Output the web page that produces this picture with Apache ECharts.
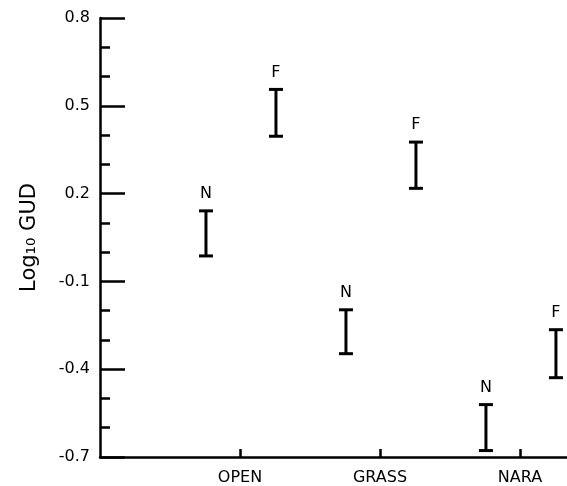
<!DOCTYPE html>
<html>
<head>
<meta charset="utf-8">
<script src="https://cdn.jsdelivr.net/npm/echarts@6/dist/echarts.min.js"></script>
<style>html,body{margin:0;padding:0;background:#fff}#c{width:567px;height:486px}</style>
</head>
<body>
<div id="c"></div>
<script>
var categories = ['OPEN', 'GRASS', 'NARA'];
var nLow  = [-0.013, -0.347, -0.678];
var nHigh = [0.141, -0.197, -0.521];
var fLow  = [0.396, 0.218, -0.429];
var fHigh = [0.556, 0.376, -0.265];
var yTickLabels = [-0.7, -0.4, -0.1, 0.2, 0.5, 0.8];

var N_OFFSET = -0.243, F_OFFSET = 0.257;
function build(lows, highs, off) {
  return categories.map(function (c, i) { return [i + 1 + off, lows[i], highs[i]]; });
}
var FONT = 'DejaVu Sans';
function renderBar(letter) {
  return function (params, api) {
    var x = api.value(0);
    var lo = api.coord([x, api.value(1)]);
    var hi = api.coord([x, api.value(2)]);
    var cap = 7;
    var st = { stroke: '#000', lineWidth: 3 };
    return {
      type: 'group',
      children: [
        { type: 'line', shape: { x1: hi[0], y1: hi[1], x2: lo[0], y2: lo[1] }, style: st },
        { type: 'line', shape: { x1: hi[0] - cap, y1: hi[1], x2: hi[0] + cap, y2: hi[1] }, style: st },
        { type: 'line', shape: { x1: lo[0] - cap, y1: lo[1], x2: lo[0] + cap, y2: lo[1] }, style: st },
        { type: 'text', x: hi[0], y: hi[1] - 9, style: { text: letter, fill: '#000', font: '16px "' + FONT + '"', align: 'center', verticalAlign: 'bottom' } }
      ]
    };
  };
}
var chart = echarts.init(document.getElementById('c'));
chart.setOption({
  animation: false,
  backgroundColor: '#fff',
  grid: { left: 100, right: 0, top: 18, bottom: 27 },
  xAxis: {
    type: 'value', min: 0, max: 3.336,
    axisLine: { show: true, onZero: false, lineStyle: { color: '#000', width: 2.5 } },
    axisTick: { show: true, inside: true, length: 8, lineStyle: { color: '#000', width: 2.5 }, customValues: [1, 2, 3] },
    axisLabel: { show: true, customValues: [1, 2, 3], formatter: function (v) { return categories[Math.round(v) - 1] || ''; }, color: '#000', fontFamily: FONT, fontSize: 16, margin: 13 },
    splitLine: { show: false }
  },
  yAxis: [
    {
      type: 'value', min: -0.7, max: 0.8, interval: 0.1,
      axisLine: { show: true, onZero: false, lineStyle: { color: '#000', width: 2.5 } },
      axisTick: { show: true, inside: true, length: 10, lineStyle: { color: '#000', width: 2.5 } },
      axisLabel: { show: false },
      splitLine: { show: false },
      name: 'Log₁₀ GUD', nameLocation: 'middle', nameRotate: 90, nameGap: 60,
      nameTextStyle: { color: '#000', fontFamily: FONT, fontSize: 21 }
    },
    {
      type: 'value', min: -0.7, max: 0.8, position: 'left',
      axisLine: { show: false },
      axisTick: { show: true, inside: true, length: 25, lineStyle: { color: '#000', width: 2.5 }, customValues: yTickLabels },
      axisLabel: { show: true, customValues: yTickLabels, formatter: function (v) { return v.toFixed(1); }, color: '#000', fontFamily: FONT, fontSize: 16, margin: 10 },
      splitLine: { show: false }
    }
  ],
  series: [
    { type: 'custom', name: 'N', renderItem: renderBar('N'), data: build(nLow, nHigh, N_OFFSET), encode: { x: 0, y: [1, 2] }, clip: false },
    { type: 'custom', name: 'F', renderItem: renderBar('F'), data: build(fLow, fHigh, F_OFFSET), encode: { x: 0, y: [1, 2] }, clip: false }
  ]
});
</script>
</body>
</html>
